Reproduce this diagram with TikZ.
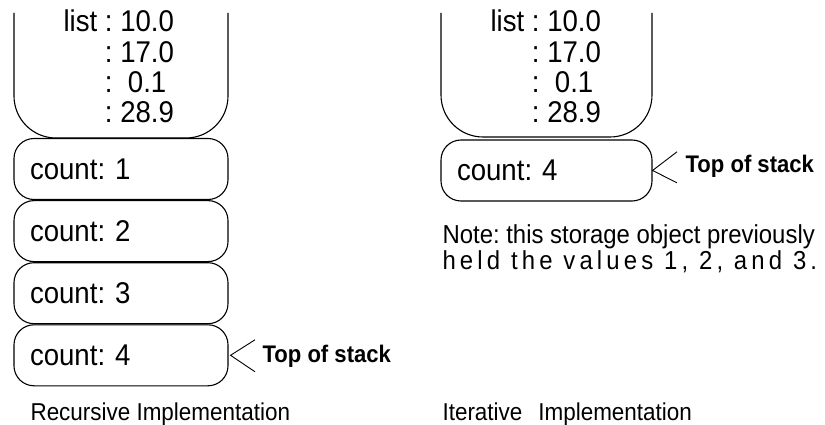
\documentclass[tikz,border=0pt]{standalone}
\usepackage{fontspec}
\setmainfont{Liberation Sans}[FakeStretch=0.92]
\usetikzlibrary{positioning}

\begin{document}
\frenchspacing
\begin{tikzpicture}[x=1pt,y=-1pt,line width=1.1pt,
  listbox/.style={rounded corners=42pt},
  listtext/.style={inner sep=0pt,anchor=base west,font=\fontsize{30}{30.3}\selectfont},
  countbox/.style={draw,rounded corners=20pt,minimum width=214pt,minimum height=61pt,
    text width=182pt,inner xsep=16pt,inner ysep=0pt,align=left,font=\fontsize{30}{30}\selectfont},
  marker/.style={inner sep=0pt,anchor=base west,font=\fontsize{24}{26}\selectfont\bfseries},
  note/.style={inner sep=0pt,anchor=base west,font=\fontsize{26}{26}\selectfont},
  caption/.style={inner sep=0pt,anchor=base west,font=\fontsize{24.4}{26}\selectfont}]
\useasboundingbox (0,0) rectangle (825,425);

% recursive implementation
\draw[listbox] (14,13) -- (14,138) -- (228,138) -- (228,13);
\node[listtext] (list1) at (63,32) {\begin{tabular}[t]{@{}r@{\ }l@{}}
  list & : 10.0\\ & : 17.0\\ & :\ \ 0.1\\ & : 28.9\end{tabular}};

\node[countbox] (c1) at (121,169) {count: 1};
\node[countbox, below=0pt of c1] (c2) {count: 2};
\node[countbox, below=0pt of c2] (c3) {count: 3};
\node[countbox, below=0pt of c3] (c4) {count: 4};

\node[marker] (tos1) at (262,362) {Top of stack};
\draw[line width=0.9pt] ([xshift=-7pt,yshift=16pt]tos1.west) -- ([xshift=2pt]c4.east) -- ([xshift=-7pt,yshift=-16pt]tos1.west);

\node[caption] (rec) at (30,420) {Recursive Implementation};

% iterative implementation
\draw[listbox] (441,13) -- (441,137) -- (652,137) -- (652,13);
\node[listtext] (list2) at (490,32) {\begin{tabular}[t]{@{}r@{\ }l@{}}
  list & : 10.0\\ & : 17.0\\ & :\ \ 0.1\\ & : 28.9\end{tabular}};

\node[countbox, minimum width=211pt, text width=179pt] (c5) at (546.5,170.5) {count: 4};

\node[marker] (tos2) at (685,173) {Top of stack};
\draw[line width=0.9pt] ([xshift=-8pt,yshift=15pt]tos2.west) -- (c5.east) -- ([xshift=-8pt,yshift=-16pt]tos2.west);

\node[note] (note1) at (442,243) {Note: this storage object previously};
\node[note] (note2) at (442,269.5) {\addfontfeature{LetterSpace=16}held the values 1, 2, and 3.};

\node[caption] (iter) at (442,420) {Iterative\hspace{16pt}Implementation};
\end{tikzpicture}
\end{document}
